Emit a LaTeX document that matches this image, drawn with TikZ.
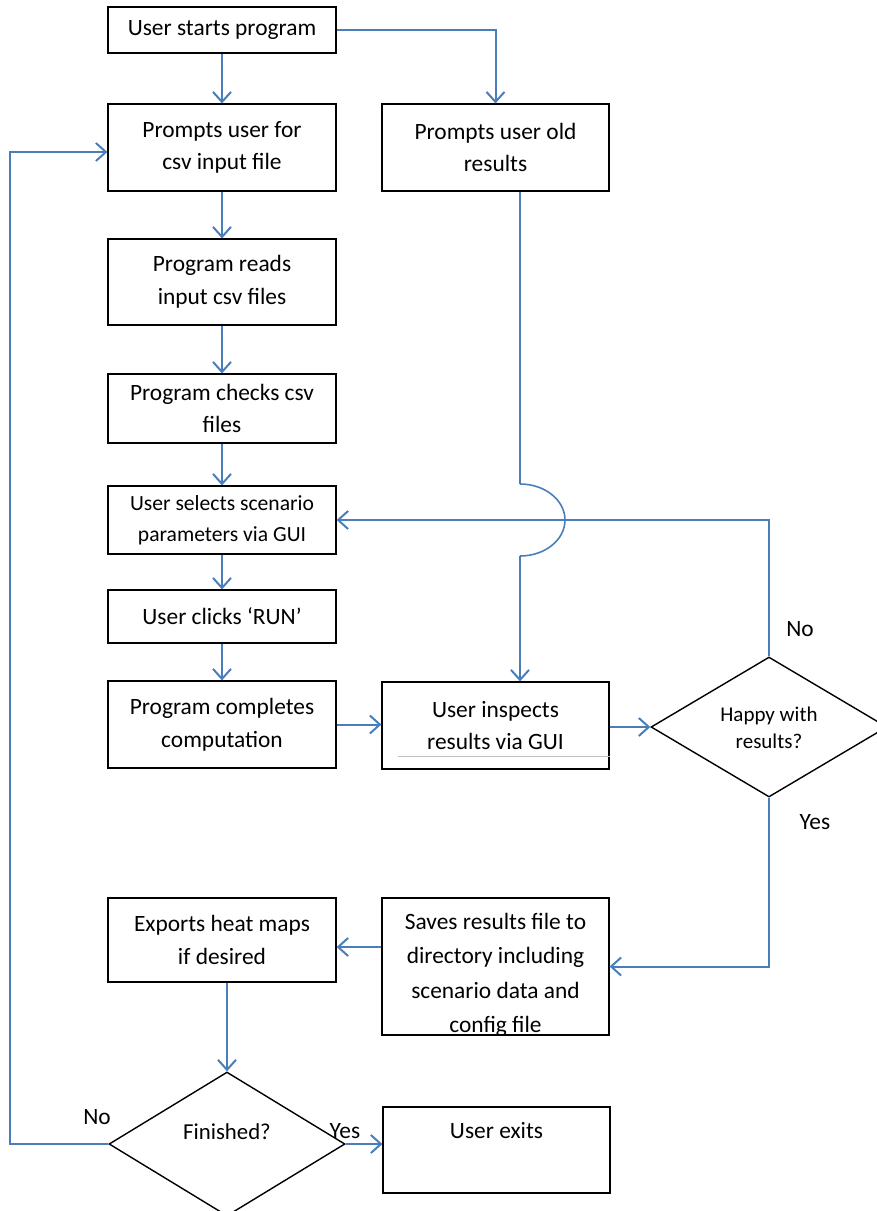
\documentclass[tikz,border=0pt]{standalone}
\usepackage{fontspec}
\setmainfont{Carlito}
\usetikzlibrary{arrows.meta,shapes.geometric}
\definecolor{lnblue}{HTML}{4A7EBB}
\begin{document}
\begin{tikzpicture}[x=0.5pt,y=-0.5pt,
 box/.style={draw=black,line width=0.6pt,minimum width=114pt,inner sep=0pt,align=center,font=\fontsize{11.7}{16.3}\selectfont,fill=white},
 rbox/.style={box,minimum width=113.5pt},
 dia/.style={draw=black,line width=0.7pt,shape=diamond,inner sep=0pt,minimum width=118pt,minimum height=70pt},
 arr/.style={draw=lnblue,line width=1pt,-{Straight Barb[length=5pt,width=9pt,line width=1pt]}},
 ln/.style={draw=lnblue,line width=1pt},
 lbl/.style={font=\fontsize{11.7}{14}\selectfont,inner sep=0pt}]
\useasboundingbox (0,0) rectangle (877,1211);

% boxes
\node[box,minimum height=23pt] (A) at (222,30) {User starts program};
\node[box,minimum height=43.5pt] (B) at (222,147.5) {Prompts user for\\csv input file};
\node[rbox,minimum height=43.5pt] (C) at (495.5,147.5) {Prompts user old\\results};
\node[box,minimum height=43pt] (D) at (222,282) {Program reads\\input csv files};
\node[box,minimum height=34.5pt] (E) at (222,408.5) {Program checks csv\\files};
\node[box,minimum height=34pt,font=\fontsize{10.8}{15.5}\selectfont] (F) at (222,520) {User selects scenario\\parameters via GUI};
\node[box,minimum height=26.5pt] (G) at (222,616.5) {User clicks ‘RUN’};
\node[box,minimum height=43.5pt] (H) at (222,724.5) {Program completes\\computation};
\node[rbox,minimum height=43.5pt] (I) at (495.5,725.5) {User inspects\\results via GUI};
\draw[black!25,line width=0.4pt] (398,756) -- (I.east |- 0,756);
\begin{scope}
\clip (382,898) rectangle (609,1034);
\node[align=center,inner sep=0pt,font=\fontsize{11.7}{17.25}\selectfont] (Ktext) at (495.5,975) {Saves results file to\\directory including\\scenario data and\\config file};
\end{scope}
\node[rbox,fill=none,minimum height=68.5pt] (K) at (495.5,966.5) {};
\node[box,minimum height=42pt] (L) at (222,940) {Exports heat maps\\if desired};
\node[rbox,minimum height=43pt] (X) at (496.5,1150) {};
\node[lbl] (Xtext) at (496.5,1131) {User exits};

% diamonds
\node[dia] (J) at (769,727) {};
\node[align=center,inner sep=0pt,font=\fontsize{10.5}{13.5}\selectfont] (Jtext) at (769,728) {Happy with\\results?};
\node[dia,minimum height=72pt] (M) at (227,1144) {};
\node[lbl,font=\fontsize{11.4}{14}\selectfont] (Mtext) at (227,1132) {Finished?};

% connectors
\draw[arr] (A.south) -- (B.north);
\draw[arr] (A.east) -| (C.north);
\draw[arr] (B.south) -- (D.north);
\draw[arr] (D.south) -- (E.north);
\draw[arr] (E.south) -- (F.north);
\draw[arr] (F.south) -- (G.north);
\draw[arr] (G.south) -- (H.north);
\draw[arr] (H.east) -- (H.east -| I.west);
\draw[arr] (I.east |- J.west) -- (J.west);

% old results path with line jump
\coordinate (jt) at (520,484);
\coordinate (jb) at (520,556);
\draw[ln] ([xshift=12.25pt]C.south) -- (jt);
\draw[ln,line width=0.8pt] (jt) arc[start angle=90,end angle=-90,x radius=22.5pt,y radius=18pt];
\draw[arr] (jb) -- ([xshift=12.25pt]I.north);

% No branch of J
\draw[arr] (J.north) |- (F.east);
\node[lbl] (No1) at (800,629) {No};
% Yes branch of J
\draw[arr] (J.south) |- (K.east);
\node[lbl] (Yes1) at (815,822) {Yes};

\draw[arr] ([yshift=9.75pt]K.west) -- ([yshift=9.75pt]K.west -| L.east);
\draw[arr] (L.south -| M.north) -- (M.north);

% Finished branches
\coordinate (lft) at (10,1144);
\draw[arr] (M.west) -- (lft) |- ([yshift=-2.25pt]B.west);
\node[lbl] (No2) at (97,1117) {No};
\draw[arr] (M.east) -- (M.east -| X.west);
\node[lbl] (Yes2) at (345,1131) {Yes};
\end{tikzpicture}
\end{document}
